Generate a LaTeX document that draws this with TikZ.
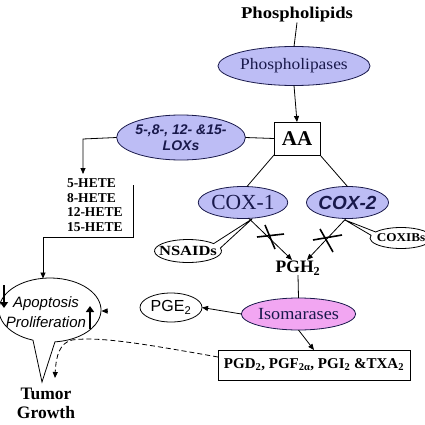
\documentclass[tikz,border=0pt]{standalone}
\usepackage{fontspec}
\setmainfont{Liberation Serif}
\setsansfont{Liberation Sans}
\usetikzlibrary{shapes.geometric,arrows.meta,calc}
\definecolor{lav}{RGB}{189,189,245}
\definecolor{pinkiso}{RGB}{242,166,242}
\definecolor{navy}{RGB}{25,25,75}
\newcommand{\hstr}[2]{\scalebox{#1}[1]{#2}}
\newcommand{\setfs}[2]{\fontsize{#1}{#2}\selectfont}
\begin{document}
\begin{tikzpicture}[x=1pt,y=-1pt,
  every node/.style={inner sep=0pt,outer sep=0pt},
  ell/.style={ellipse,draw=navy,line width=0.8pt,text=navy},
  lavell/.style={ell,fill=lav},
  con/.style={line width=0.8pt},
  arr/.style={con,-{Triangle[length=6pt,width=5pt]}},
  cross/.style={line width=1.6pt},
  bigarr/.style={line width=2.6pt,-{Triangle[length=6pt,width=8pt]}},
  callout/.style={draw=black,line width=0.8pt,fill=white},
  ]
\useasboundingbox (0,0) rectangle (425,425);
\clip (0,0) rectangle (425,425);
\fill[white] (0,0) rectangle (425,425);

% nodes
\node (phl) at (297,15) {\setfs{16.5}{18}\bfseries\hstr{1.13}{Phospholipids}};
\node[lavell,minimum width=118pt,minimum height=39pt] (pla) at (294,66) {\setfs{16}{18}\hstr{1.09}{Phospholipases}};
\node[draw,line width=0.8pt,minimum width=46pt,minimum height=33pt] (aa) at (297,138.5) {\setfs{21}{23}\bfseries AA};
\node[lavell,minimum width=118pt,minimum height=45pt,align=center,font=\setfs{14}{16.5}\sffamily\bfseries\itshape] (lox) at (181,137.5)
  {5-,8-, 12- \&15-\\LOXs};
\node[anchor=north west,align=left,font=\setfs{13.5}{14.5}\bfseries] (hete) at (67,179)
  {5-HETE\\8-HETE\\12-HETE\\15-HETE};
\node[lavell,minimum width=74pt,minimum height=32pt] (cox1) at (243,202.5) {\setfs{21.5}{23}COX-1};
\node[lavell,minimum width=79pt,minimum height=32pt] (cox2) at (347.5,202.5) {\setfs{19}{21}\sffamily\bfseries\itshape COX-2};
\node (pgh) at (298,268) {\setfs{17.5}{19}\bfseries PGH\textsubscript{2}};
\node[ell,fill=pinkiso,minimum width=97pt,minimum height=32pt] (iso) at (298.5,314) {\setfs{17}{19}\hstr{1.07}{Isomarases}};
\node[draw,line width=0.8pt,minimum width=62pt,minimum height=29pt,ellipse,fill=white] (pge) at (171,307.5) {\setfs{16}{18}\sffamily PGE\textsubscript{2}};
\node[draw,line width=0.8pt,minimum width=192pt,minimum height=30pt] (pgd) at (314,365)
  {\setfs{15}{17}\bfseries PGD\textsubscript{2}, PGF\textsubscript{2α}, PGI\textsubscript{2} \&TXA\textsubscript{2}};

% callouts
\coordinate (nsc) at (188,251);
\coordinate (nstip) at (252,219);
\draw[callout] (nstip) -- ($(nsc)+(-15:33.5 and 11.5)$) arc[start angle=-15,end angle=320,x radius=33.5,y radius=11.5] -- cycle;
\node (nsaid) at (nsc) {\setfs{14}{16}\bfseries\hstr{1.18}{NSAIDs}};

\coordinate (cbc) at (401,238);
\coordinate (cbtip) at (345,220);
\draw[callout] (cbtip) -- ($(cbc)+(215:31 and 10.5)$) arc[start angle=215,end angle=555,x radius=31,y radius=10.5] -- cycle;
\node (coxib) at (cbc) {\setfs{12}{14}\bfseries\hstr{1.1}{COXIBs}};

\coordinate (apoc) at (50,310);
\coordinate (apotip) at (42,382);
\draw[callout] (apotip) -- ($(apoc)+(109.5:51 and 32)$) arc[start angle=109.5,end angle=444.4,x radius=51,y radius=32] -- cycle;
\node[align=center,font=\setfs{15}{20}\sffamily\itshape] (apo) at (46,312) {Apoptosis\\Proliferation};
\draw[bigarr] (4,285) -- (4,308);
\draw[bigarr] (90,329) -- (90,306);

\node[align=center,font=\setfs{17.5}{19}\bfseries] (tumor) at (46,403) {Tumor\\Growth};

% connectors
\draw[con] (phl.south) -- (pla.north);
\draw[arr] (pla.south) -- (aa.north);
\draw[con] (aa.west) -- (lox.east);
\coordinate (c1) at (83,139);
\coordinate (c2) at (83,174);
\draw[arr] (lox.west) -- (c1) -- (c2);
\coordinate (h1) at (133,185);
\coordinate (h2) at (133,237);
\coordinate (h3) at (43,237);
\coordinate (apotop) at (43,278.5);
\draw[arr] (h1) -- (h2) -- (h3) -- (apotop);
\draw[con] (aa.south west) -- ($(cox1.north)+(4,0)$);
\draw[con] (aa.south east) -- (cox2.north);
\draw[arr] (cox1.-70) -- ($(pgh.north)+(-6,-1)$);
\draw[arr] (cox2.-95) -- ($(pgh.north)+(9,-1)$);
\draw[cross] (257,237) -- (284,234);
\draw[cross] (265,225) -- (275,249);
\draw[cross] (313,240) -- (342,235);
\draw[cross] (320,229) -- (333,252);
\draw[con] (pgh.south) -- (iso.north);
\draw[arr] (iso.west) -- (pge.east);
\draw[arr] (iso.south) -- (pgd.north);
\coordinate (apor) at (101.5,311);
\draw[arr] ($(apor)+(6,0)$) -- (apor);
\coordinate (dtip) at (55,378);
\draw[arr,dashed,dash pattern=on 5pt off 3pt] ($(pgd.west)+(0,-8)$) .. controls (150,345) and (100,336) .. (72,340) .. controls (60,343) and (56,355) .. (dtip);
\end{tikzpicture}
\end{document}
